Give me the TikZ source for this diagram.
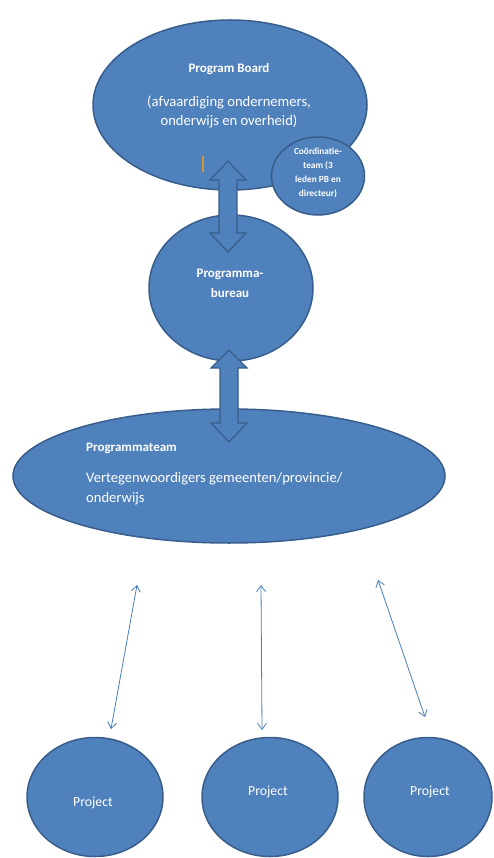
\documentclass[tikz,border=0pt]{standalone}
\usepackage{fontspec}
\setmainfont{Carlito}
\usetikzlibrary{arrows.meta,shapes.geometric,calc}
\definecolor{fillblue}{HTML}{4F81BD}
\definecolor{edgeblue}{HTML}{385D8A}
\definecolor{thinblue}{HTML}{4A7EBB}
\definecolor{cursor}{HTML}{C89B3C}
\tikzset{
  blob/.style={ellipse, fill=fillblue, draw=edgeblue, line width=1.5pt, inner sep=0pt, outer sep=0pt},
  lbl/.style={text=white, inner sep=0pt, font=\fontsize{14.6}{16}\selectfont},
  blbl/.style={text=white, inner sep=0pt, font=\fontsize{13}{15}\selectfont\bfseries},
  slbl/.style={text=white, inner sep=0pt, align=center, font=\fontsize{9.3}{14}\selectfont\bfseries},
  plbl/.style={text=white, inner sep=0pt, font=\fontsize{13.8}{15}\selectfont},
  blockarrow/.style={fill=fillblue, draw=edgeblue, line width=1.2pt, line join=miter},
  thinarrow/.style={draw=thinblue, line width=0.8pt, {Straight Barb[length=6pt,width=9pt]}-{Straight Barb[length=6pt,width=9pt]}}
}
\begin{document}
\begin{tikzpicture}[x=1pt,y=-1pt]
\useasboundingbox (0,0) rectangle (493,858);

% Program Board
\node[blob, minimum width=274pt, minimum height=170pt] (pb) at (230,105) {};
\node[blbl] (pbtitle) at (229,69) {Program Board};
\node[lbl] (pbline1) at (229,102) {(afvaardiging ondernemers,};
\node[lbl] (pbline2) at (229,121) {onderwijs en overheid)};
\draw[cursor, line width=1.3pt] (203,156) -- (203,172);

% Coordinatieteam
\node[blob, minimum width=93pt, minimum height=78pt] (coord) at (318,176) {};
\node[slbl] (coordtxt) at (318,173) {Coördinatie-\\team (3\\leden PB en\\directeur)};

% Programmabureau
\node[blob, minimum width=164pt, minimum height=146pt] (bureau) at (231,288) {};
\node[blbl, align=center, font=\fontsize{13}{20}\selectfont\bfseries] (bureautxt) at (230,283) {Programma-\\bureau};

% block arrow 1
\coordinate (a1t) at (228,161);
\coordinate (a1b) at (228,252);
\path[blockarrow] (a1t) -- ++(18,19) -- ++(-9,0) -- ($(a1b)+(9,-19)$) -- ++(9,0) -- (a1b)
  -- ++(-18,-19) -- ++(9,0) -- ($(a1t)+(-9,19)$) -- ++(-9,0) -- cycle;

% Programmateam
\node[blob, minimum width=432pt, minimum height=134pt] (team) at (229,476) {};
\node[blbl, anchor=west] (teamtitle) at (86,448) {Programmateam};
\node[lbl, anchor=west] (teamline1) at (86,479) {Vertegenwoordigers gemeenten/provincie/};
\node[lbl, anchor=west] (teamline2) at (86,499) {onderwijs};

% block arrow 2
\coordinate (a2t) at (229,350);
\coordinate (a2b) at (229,442);
\path[blockarrow] (a2t) -- ++(18,18) -- ++(-9,0) -- ($(a2b)+(9,-19)$) -- ++(9,0) -- (a2b)
  -- ++(-18,-19) -- ++(9,0) -- ($(a2t)+(-9,18)$) -- ++(-9,0) -- cycle;

% Projects
\node[blob, minimum width=136pt, minimum height=119pt] (p1) at (95,797) {};
\node[plbl] (p1txt) at (93,803) {Project};
\node[blob, minimum width=136pt, minimum height=119pt] (p2) at (270,797) {};
\node[plbl] (p2txt) at (268,792) {Project};
\node[blob, minimum width=128pt, minimum height=119pt] (p3) at (428,797) {};
\node[plbl] (p3txt) at (430,792) {Project};

% thin arrows
\coordinate (t1a) at (137,585);
\coordinate (t1b) at (111,729);
\coordinate (t2a) at (261,585);
\coordinate (t2b) at (262,730);
\coordinate (t3a) at (378,580);
\coordinate (t3b) at (425,717);
\draw[thinarrow] (t1a) -- (t1b);
\draw[thinarrow] (t2a) -- (t2b);
\draw[thinarrow] (t3a) -- (t3b);
\end{tikzpicture}
\end{document}
